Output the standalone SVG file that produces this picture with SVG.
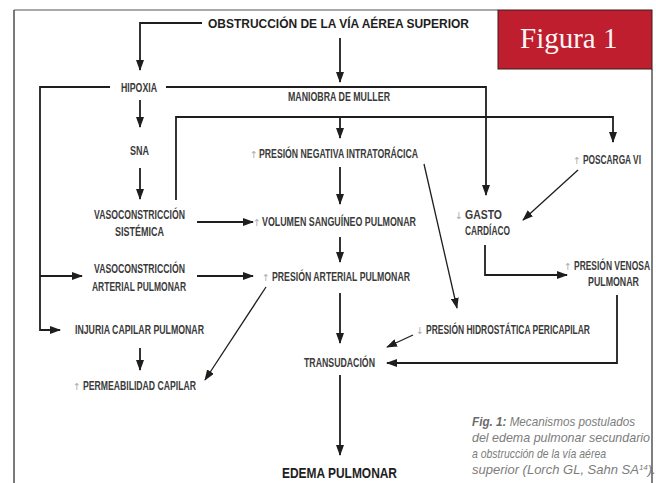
<svg xmlns="http://www.w3.org/2000/svg" width="656" height="483" viewBox="0 0 656 483">
<style>
  .n { font-family: "Liberation Sans Narrow", "Liberation Sans", Arial, sans-serif; font-size: 12.5px; font-weight: bold; fill: #3a3a3a; }
  .t { font-family: "Liberation Sans Narrow", "Liberation Sans", Arial, sans-serif; font-size: 13px; font-weight: bold; fill: #1e1e1e; }
  .e { font-family: "Liberation Sans Narrow", "Liberation Sans", Arial, sans-serif; font-size: 14px; font-weight: bold; fill: #1e1e1e; }
  .ar { font-family: "DejaVu Sans", sans-serif; font-size: 9.5px; fill: #a8a8a8; text-anchor: middle; }
  .cap { font-family: "Liberation Sans", Arial, sans-serif; font-size: 13px; font-style: italic; fill: #7c7c7c; }
  .capb { font-weight: bold; fill: #6a6a6a; }
  .c { fill: none; stroke: #1e1e1e; stroke-width: 1.8; marker-end: url(#ah); }
  .d { fill: none; stroke: #1e1e1e; stroke-width: 1.3; marker-end: url(#ah); }
</style>
<defs>
  <marker id="ah" markerUnits="userSpaceOnUse" viewBox="0 0 11 8" refX="10" refY="4" markerWidth="11" markerHeight="8" orient="auto">
    <path d="M0,0 L11,4 L0,8 z" fill="#1e1e1e"/>
  </marker>
</defs>
<rect width="656" height="483" fill="#ffffff"/>

<g id="caption">
  <text class="cap" x="472" y="426" textLength="163" lengthAdjust="spacingAndGlyphs"><tspan class="capb">Fig. 1:</tspan> Mecanismos postulados</text>
  <text class="cap" x="472" y="442" textLength="178" lengthAdjust="spacingAndGlyphs">del edema pulmonar secundario</text>
  <text class="cap" x="472" y="458" textLength="134" lengthAdjust="spacingAndGlyphs">a obstrucción de la vía aérea</text>
  <text class="cap" x="472" y="474">superior (Lorch GL, Sahn SA<tspan font-size="8" dy="-4">14</tspan><tspan dy="4">).</tspan></text>
</g>

<g id="frame">
  <line x1="14" y1="10" x2="14" y2="483" stroke="#7a7a7a" stroke-width="2"/>
  <line x1="14" y1="10" x2="498" y2="10" stroke="#555" stroke-width="1"/>
  <line x1="652" y1="69" x2="652" y2="483" stroke="#555" stroke-width="1.5"/>
</g>

<g id="figura">
  <rect x="498" y="10" width="154" height="59" fill="#be1e2d" stroke="#3a1a1a" stroke-width="1"/>
  <text x="520" y="48" font-family="Liberation Serif, 'Times New Roman', serif" font-size="29" fill="#fff5f5">Figura 1</text>
</g>

<g id="connectors">
  <polyline class="c" points="202,23 140,23 140,70"/>
  <line class="c" x1="340" y1="38" x2="340" y2="82"/>
  <polyline class="c" points="166,87 486,87 486,195"/>
  <polyline class="c" points="110,87 40,87 40,330 60,330"/>
  <line class="c" x1="40" y1="276" x2="82" y2="276"/>
  <line class="c" x1="140" y1="100" x2="140" y2="127"/>
  <line class="c" x1="140" y1="168" x2="140" y2="199"/>
  <polyline class="c" points="176,200 176,117 613,117 613,142"/>
  <line class="c" x1="340" y1="117" x2="340" y2="138"/>
  <line class="c" x1="340" y1="167" x2="340" y2="204"/>
  <line class="d" x1="424" y1="164" x2="457" y2="308"/>
  <line class="c" x1="197" y1="222" x2="253" y2="222"/>
  <line class="c" x1="197" y1="276" x2="253" y2="276"/>
  <line class="c" x1="340" y1="237" x2="340" y2="262"/>
  <line class="c" x1="340" y1="293" x2="340" y2="343"/>
  <line class="d" x1="266" y1="287" x2="205" y2="380"/>
  <line class="c" x1="140" y1="348" x2="140" y2="370"/>
  <line class="d" x1="413" y1="335" x2="387" y2="347"/>
  <polyline class="c" points="617,295 617,363 387,363"/>
  <line class="d" x1="578" y1="170" x2="523" y2="220"/>
  <polyline class="c" points="485,245 485,275 567,275"/>
  <line class="c" x1="340" y1="375" x2="340" y2="455"/>
</g>

<g id="obstruccion">
  <text class="t" x="208" y="28" textLength="261" lengthAdjust="spacingAndGlyphs">OBSTRUCCIÓN DE LA VÍA AÉREA SUPERIOR</text>
</g>
<g id="hipoxia">
  <text class="n" x="121" y="92" textLength="36" lengthAdjust="spacingAndGlyphs">HIPOXIA</text>
</g>
<g id="maniobra">
  <text class="n" x="288" y="101" textLength="102" lengthAdjust="spacingAndGlyphs">MANIOBRA DE MULLER</text>
</g>
<g id="sna">
  <text class="n" x="130" y="155" textLength="19" lengthAdjust="spacingAndGlyphs">SNA</text>
</g>
<g id="presion-negativa">
  <text class="ar" x="254" y="158">↑</text>
  <text class="n" x="259" y="158" textLength="159" lengthAdjust="spacingAndGlyphs">PRESIÓN NEGATIVA INTRATORÁCICA</text>
</g>
<g id="poscarga">
  <text class="ar" x="577" y="164">↑</text>
  <text class="n" x="583" y="164" textLength="58" lengthAdjust="spacingAndGlyphs">POSCARGA VI</text>
</g>
<g id="vaso-sistemica">
  <text class="n" x="94" y="219" textLength="91" lengthAdjust="spacingAndGlyphs">VASOCONSTRICCIÓN</text>
  <text class="n" x="115" y="236" textLength="49" lengthAdjust="spacingAndGlyphs">SISTÉMICA</text>
</g>
<g id="volumen">
  <text class="ar" x="257" y="226">↑</text>
  <text class="n" x="262" y="226" textLength="154" lengthAdjust="spacingAndGlyphs">VOLUMEN SANGUÍNEO PULMONAR</text>
</g>
<g id="gasto">
  <text class="ar" x="459" y="219">↓</text>
  <text class="n" x="465" y="219" textLength="37" lengthAdjust="spacingAndGlyphs">GASTO</text>
  <text class="n" x="465" y="235" textLength="45" lengthAdjust="spacingAndGlyphs">CARDÍACO</text>
</g>
<g id="vaso-arterial">
  <text class="n" x="94" y="273" textLength="91" lengthAdjust="spacingAndGlyphs">VASOCONSTRICCIÓN</text>
  <text class="n" x="92" y="291" textLength="94" lengthAdjust="spacingAndGlyphs">ARTERIAL PULMONAR</text>
</g>
<g id="presion-arterial">
  <text class="ar" x="266" y="281">↑</text>
  <text class="n" x="272" y="281" textLength="138" lengthAdjust="spacingAndGlyphs">PRESIÓN ARTERIAL PULMONAR</text>
</g>
<g id="presion-venosa">
  <text class="ar" x="568" y="270">↑</text>
  <text class="n" x="574" y="270" textLength="76" lengthAdjust="spacingAndGlyphs">PRESIÓN VENOSA</text>
  <text class="n" x="588" y="286" textLength="51" lengthAdjust="spacingAndGlyphs">PULMONAR</text>
</g>
<g id="injuria">
  <text class="n" x="75" y="334" textLength="129" lengthAdjust="spacingAndGlyphs">INJURIA CAPILAR PULMONAR</text>
</g>
<g id="hidrostatica">
  <text class="ar" x="420" y="334">↓</text>
  <text class="n" x="426" y="334" textLength="164" lengthAdjust="spacingAndGlyphs">PRESIÓN HIDROSTÁTICA PERICAPILAR</text>
</g>
<g id="transudacion">
  <text class="n" x="304" y="367" textLength="71" lengthAdjust="spacingAndGlyphs">TRANSUDACIÓN</text>
</g>
<g id="permeabilidad">
  <text class="ar" x="77" y="390">↑</text>
  <text class="n" x="83" y="390" textLength="113" lengthAdjust="spacingAndGlyphs">PERMEABILIDAD CAPILAR</text>
</g>
<g id="edema">
  <text class="e" x="282" y="478" textLength="115" lengthAdjust="spacingAndGlyphs">EDEMA PULMONAR</text>
</g>
</svg>
